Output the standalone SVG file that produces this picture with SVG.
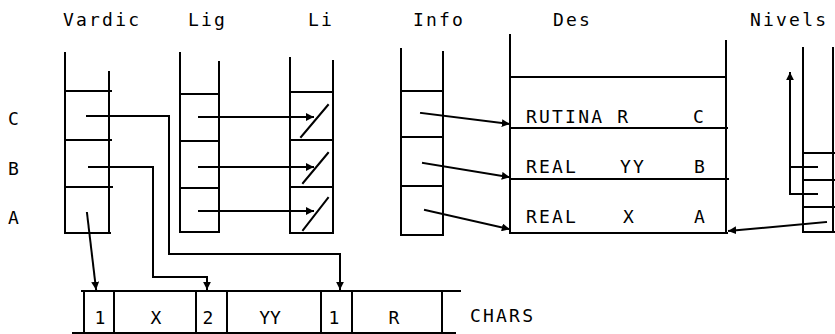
<svg xmlns="http://www.w3.org/2000/svg" width="835" height="334" viewBox="0 0 835 334">
<style>
text{font-family:"DejaVu Sans Mono","Liberation Mono",monospace;font-size:18px;fill:#000;letter-spacing:2.2px}
.c{text-anchor:middle;letter-spacing:0}
.s{fill:none;stroke:#000;stroke-width:2;stroke-linecap:square}
</style>
<defs>
<marker id="ah" viewBox="0 0 10 10" refX="9" refY="5" markerWidth="8" markerHeight="8" markerUnits="userSpaceOnUse" orient="auto">
<path d="M0,0 L10,5 L0,10 z" fill="#000"/>
</marker>
</defs>
<rect width="835" height="334" fill="#fff"/>
<g id="labels">
<text x="63" y="26">Vardic</text>
<text x="188" y="26">Lig</text>
<text x="308" y="26">Li</text>
<text x="413" y="26">Info</text>
<text x="553" y="26">Des</text>
<text x="750" y="26">Nivels</text>
<text x="8" y="125">C</text>
<text x="8" y="175">B</text>
<text x="8" y="224">A</text>
</g>
<g id="vardic">
<path class="s" d="M65,53 V233 H110 M109,72 V233 M65,91 H111 M65,140 H111 M65,187 H112"/>
</g>
<g id="lig">
<path class="s" d="M180,53 V232 H219 M219,62 V232 M180,94 H219 M180,141 H219 M180,188 H219"/>
</g>
<g id="li">
<path class="s" d="M290,58 V233 H333 M333,61 V233 M290,92 H333 M290,140 H333 M290,187 H333"/>
<path class="s" d="M301,137 L328,105 M303,183 L328,153 M303,230 L328,198"/>
</g>
<g id="info">
<path class="s" d="M401,49 V235 H443 M443,52 V235 M401,91 H443 M401,137 H443 M401,186 H443"/>
</g>
<g id="des">
<path class="s" d="M510,35 V233 H727 M726,41 V233 M510,77 H726 M510,128 H727 M510,179 H728"/>
<text x="526" y="123">RUTINA R</text>
<text x="693" y="123">C</text>
<text x="526" y="173">REAL</text>
<text x="620" y="173">YY</text>
<text x="694" y="173">B</text>
<text x="526" y="223">REAL</text>
<text x="623" y="223">X</text>
<text x="694" y="223">A</text>
</g>
<g id="nivels">
<path class="s" d="M803,48 V232 H834 M833,48 V232 M803,153 H834 M803,180 H834 M803,207 H834"/>
</g>
<g id="chars">
<path class="s" d="M82,291 H460 M73,333 H455 M84,291 V333 M114,291 V333 M196,291 V333 M227,291 V333 M321,291 V333 M352,291 V333 M442,291 V333"/>
<text class="c" x="100" y="324">1</text>
<text class="c" x="156" y="324">X</text>
<text class="c" x="208" y="324">2</text>
<text class="c" x="270" y="324">YY</text>
<text class="c" x="334" y="324">1</text>
<text class="c" x="394" y="324">R</text>
<text x="470" y="322">CHARS</text>
</g>
<g id="connectors">
<path class="s" d="M87,116 H169 V254 H340 V289" marker-end="url(#ah)"/>
<path class="s" d="M89,167 H153 V277 H207 V289" marker-end="url(#ah)"/>
<path class="s" d="M87,213 L96,289" marker-end="url(#ah)"/>
<path class="s" d="M199,117 H313" marker-end="url(#ah)"/>
<path class="s" d="M199,167 H313" marker-end="url(#ah)"/>
<path class="s" d="M199,211 H313" marker-end="url(#ah)"/>
<path class="s" d="M421,113 L509,124" marker-end="url(#ah)"/>
<path class="s" d="M423,163 L509,177" marker-end="url(#ah)"/>
<path class="s" d="M425,210 L509,229" marker-end="url(#ah)"/>
<path class="s" d="M826,222 L729,231" marker-end="url(#ah)"/>
<path class="s" d="M817,167 H791 M817,194 H790 V73" marker-end="url(#ah)"/>
</g>
</svg>
